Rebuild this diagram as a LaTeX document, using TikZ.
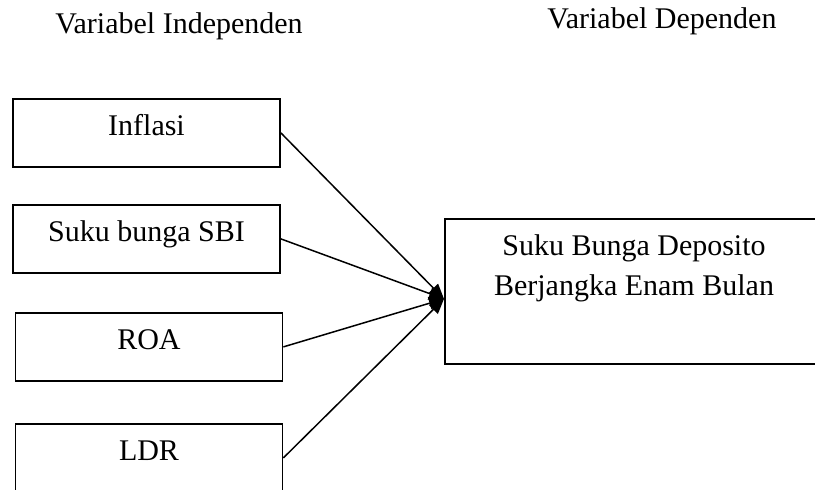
\documentclass[tikz,border=0pt]{standalone}
\usepackage{fontspec}
\setmainfont{Liberation Serif}
\usepackage{tikz}
\usetikzlibrary{arrows.meta}
\tikzset{varbox/.style={draw,line width=0.7pt,inner sep=0pt,
    minimum width=106.8pt,text height=14.8pt,text depth=12.4pt,
    font=\fontsize{12}{16}\selectfont},
    depbox/.style={draw,line width=0.7pt,minimum width=152pt,minimum height=58pt},
    deptext/.style={inner sep=0pt,align=center,font=\fontsize{12}{16}\selectfont},
    title/.style={anchor=base,font=\fontsize{12}{14}\selectfont},
    link/.style={line width=0.6pt,-{Triangle[length=6pt,width=5pt]}}}

\begin{document}
\begin{tikzpicture}[x=0.4pt,y=-0.4pt]
    \useasboundingbox (0,0) rectangle (815,489);
    \node[title] (indep) at (179,33) {Variabel Independen};
    \node[title] (dep) at (662,28) {Variabel Dependen};
    \node[varbox,anchor=north] (inflasi) at (146.5,98) {Inflasi};
    \node[varbox,anchor=north] (sbi) at (146.5,204) {Suku bunga SBI};
    \node[varbox,anchor=north] (roa) at (149,312) {ROA};
    \node[varbox,anchor=north] (ldr) at (149,423) {LDR};
    \node[depbox,anchor=north west] (deposito) at (444,218) {};
    \node[deptext,anchor=north] (depositotext) at (634,234.5)
        {Suku Bunga Deposito\\Berjangka Enam Bulan};
    \coordinate (hub) at ([yshift=-3pt]deposito.west);
    \foreach \v in {inflasi,sbi,roa,ldr}
        \draw[link] (\v.east) -- (hub);
\end{tikzpicture}
\end{document}
